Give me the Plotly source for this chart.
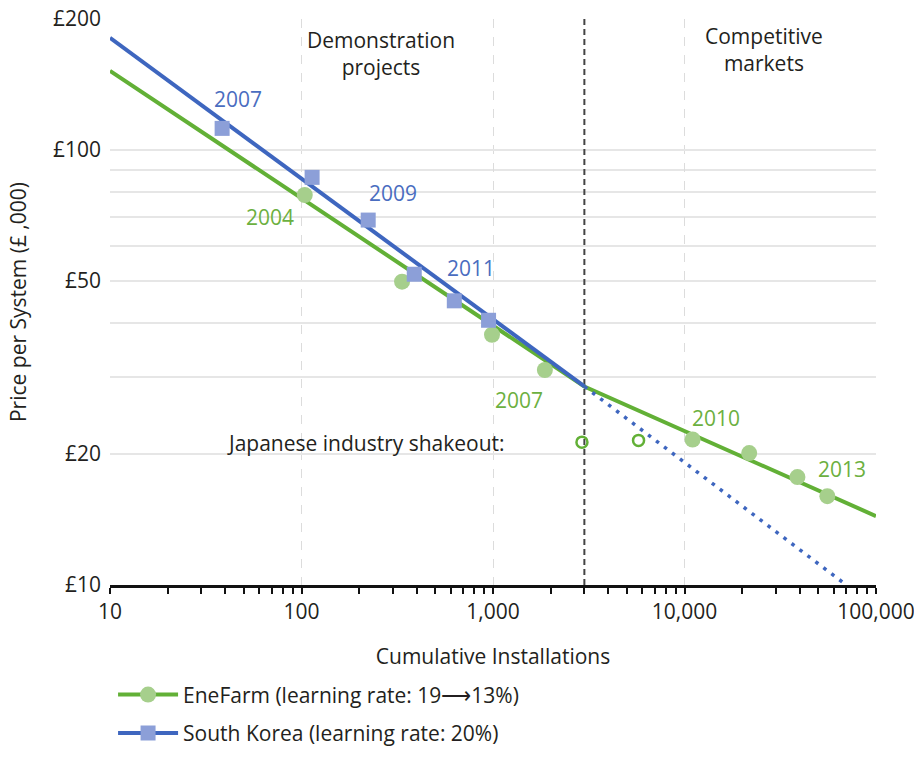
import plotly.graph_objects as go

# ---- data ----
ene_x = [104, 335, 988, 1866, 11020, 21770, 38880, 55700]
ene_y = [78.8, 49.8, 37.6, 31.2, 21.6, 20.1, 17.7, 16.0]

korea_x = [38.5, 113.6, 223, 388, 628, 948]
korea_y = [112.1, 86.5, 69.0, 51.8, 45.0, 40.6]

shakeout_x = [2914, 5755]
shakeout_y = [21.3, 21.5]

ene_fit_x = [10, 3000, 100000]
ene_fit_y = [152, 28.6, 14.4]

korea_fit_x = [10, 3000]
korea_fit_y = [181, 28.6]

korea_proj_x = [3000, 70000]
korea_proj_y = [28.6, 10]

phase_split = 3000

x_tick_vals = [10, 100, 1000, 10000, 100000]
x_tick_text = ["10", "100", "1,000", "10,000", "100,000"]
x_minor_vals = [m * d for d in [10, 100, 1000, 10000] for m in range(2, 10)]
y_tick_vals = [10, 20, 50, 100, 200]
y_tick_text = ["£10", "£20", "£50", "£100", "£200"]
y_minor_vals = [30, 40, 60, 70, 80, 90]

GREEN_LINE = "#62B036"
GREEN_MARK = "#A6CF8C"
GREEN_TEXT = "#6CB040"
BLUE_LINE = "#3E66BF"
BLUE_MARK = "#8C9FD8"
BLUE_TEXT = "#4A6DC0"
TEXT = "#231F20"
FONT = "Open Sans"
FS = 21

fig = go.Figure()

# phase divider
fig.add_trace(go.Scatter(x=[phase_split, phase_split], y=[10, 200], mode="lines",
                         line=dict(color="#444444", width=2, dash="6px,4px"),
                         showlegend=False, hoverinfo="skip"))

fig.add_trace(go.Scatter(x=ene_fit_x, y=ene_fit_y, mode="lines",
                         line=dict(color=GREEN_LINE, width=4), showlegend=False))
fig.add_trace(go.Scatter(x=korea_proj_x, y=korea_proj_y, mode="lines",
                         line=dict(color=BLUE_LINE, width=3.5, dash="3.5px,6.5px"),
                         showlegend=False))
fig.add_trace(go.Scatter(x=korea_fit_x, y=korea_fit_y, mode="lines",
                         line=dict(color=BLUE_LINE, width=4), showlegend=False))

fig.add_trace(go.Scatter(x=shakeout_x, y=shakeout_y, mode="markers",
                         marker=dict(symbol="circle-open", size=11, color=GREEN_LINE,
                                     line=dict(width=2.5, color=GREEN_LINE)),
                         showlegend=False))
fig.add_trace(go.Scatter(x=ene_x, y=ene_y, mode="markers",
                         marker=dict(symbol="circle", size=16, color=GREEN_MARK),
                         showlegend=False))
fig.add_trace(go.Scatter(x=korea_x, y=korea_y, mode="markers",
                         marker=dict(symbol="square", size=15, color=BLUE_MARK),
                         showlegend=False))

# legend entries
fig.add_trace(go.Scatter(x=[None], y=[None], mode="lines+markers",
                         name="EneFarm (learning rate: 19\u27f613%)", legendgroup="a",
                         line=dict(color=GREEN_LINE, width=4),
                         marker=dict(symbol="circle", size=16, color=GREEN_MARK)))
fig.add_trace(go.Scatter(x=[None], y=[None], mode="lines+markers",
                         name="South Korea (learning rate: 20%)", legendgroup="b",
                         line=dict(color=BLUE_LINE, width=4),
                         marker=dict(symbol="square", size=15, color=BLUE_MARK)))

def ann(text, xp, yp, color, size=FS):
    fig.add_annotation(text=text, x=xp, y=yp, xref="paper", yref="paper",
                       showarrow=False, font=dict(family=FONT, size=size, color=color),
                       xanchor="center", yanchor="middle", align="center")

ann("Demonstration<br>projects", 0.3534, 0.9399, TEXT)
ann("Competitive<br>markets", 0.8537, 0.946, TEXT)
ann("2007", 0.1666, 0.8594, BLUE_TEXT)
ann("2009", 0.369, 0.6932, BLUE_TEXT)
ann("2011", 0.4709, 0.5606, BLUE_TEXT)
ann("2004", 0.2084, 0.6508, GREEN_TEXT)
ann("2007", 0.5336, 0.3271, GREEN_TEXT)
ann("2010", 0.7910, 0.2953, GREEN_TEXT)
ann("2013", 0.9556, 0.2051, GREEN_TEXT)
ann("Japanese industry shakeout:", 0.3338, 0.2511, TEXT)

fig.update_layout(
    width=914, height=759,
    margin=dict(l=110, r=38, t=19, b=174, autoexpand=False),
    paper_bgcolor="white", plot_bgcolor="white",
    font=dict(family=FONT, size=FS, color=TEXT),
    xaxis=dict(type="log", range=[1, 5], tickmode="array",
               tickvals=x_tick_vals, ticktext=x_tick_text, automargin=False,
               ticklabeloverflow="allow",
               showgrid=True, gridcolor="#DCDCDC", gridwidth=1, griddash="dash",
               showline=True, linecolor="#111111", linewidth=2.5,
               ticks="outside", ticklen=6, tickwidth=1.5, tickcolor="#111111",
               minor=dict(tickmode="array", tickvals=x_minor_vals, ticks="outside",
                          ticklen=6, tickwidth=1.5, tickcolor="#111111", showgrid=False),
               tickfont=dict(size=FS, color=TEXT),
               title=dict(text="Cumulative Installations", standoff=26,
                          font=dict(size=FS, color=TEXT)),
               zeroline=False),
    yaxis=dict(type="log", range=[1, 2.30103], tickmode="array",
               tickvals=y_tick_vals, ticktext=y_tick_text, automargin=False,
               showgrid=True, gridcolor="#E6E6E6", gridwidth=1.5,
               minor=dict(tickmode="array", tickvals=y_minor_vals, showgrid=True,
                          gridcolor="#E6E6E6", gridwidth=1.5, ticks=""),
               showline=False, ticks="", ticklabelstandoff=8,
               tickfont=dict(size=FS, color=TEXT),
               title=dict(text="Price per System (£ ,000)", standoff=20,
                          font=dict(size=FS, color=TEXT)),
               zeroline=False),
    showlegend=True,
    legend=dict(x=0.004, y=-0.158, xanchor="left", yanchor="top", orientation="v",
                traceorder="grouped", tracegroupgap=8, itemwidth=60,
                font=dict(size=FS, color=TEXT), bgcolor="rgba(0,0,0,0)"),
)

fig.write_html("out.html", config={"displayModeBar": False},
               post_script="document.body.style.margin='0';")
